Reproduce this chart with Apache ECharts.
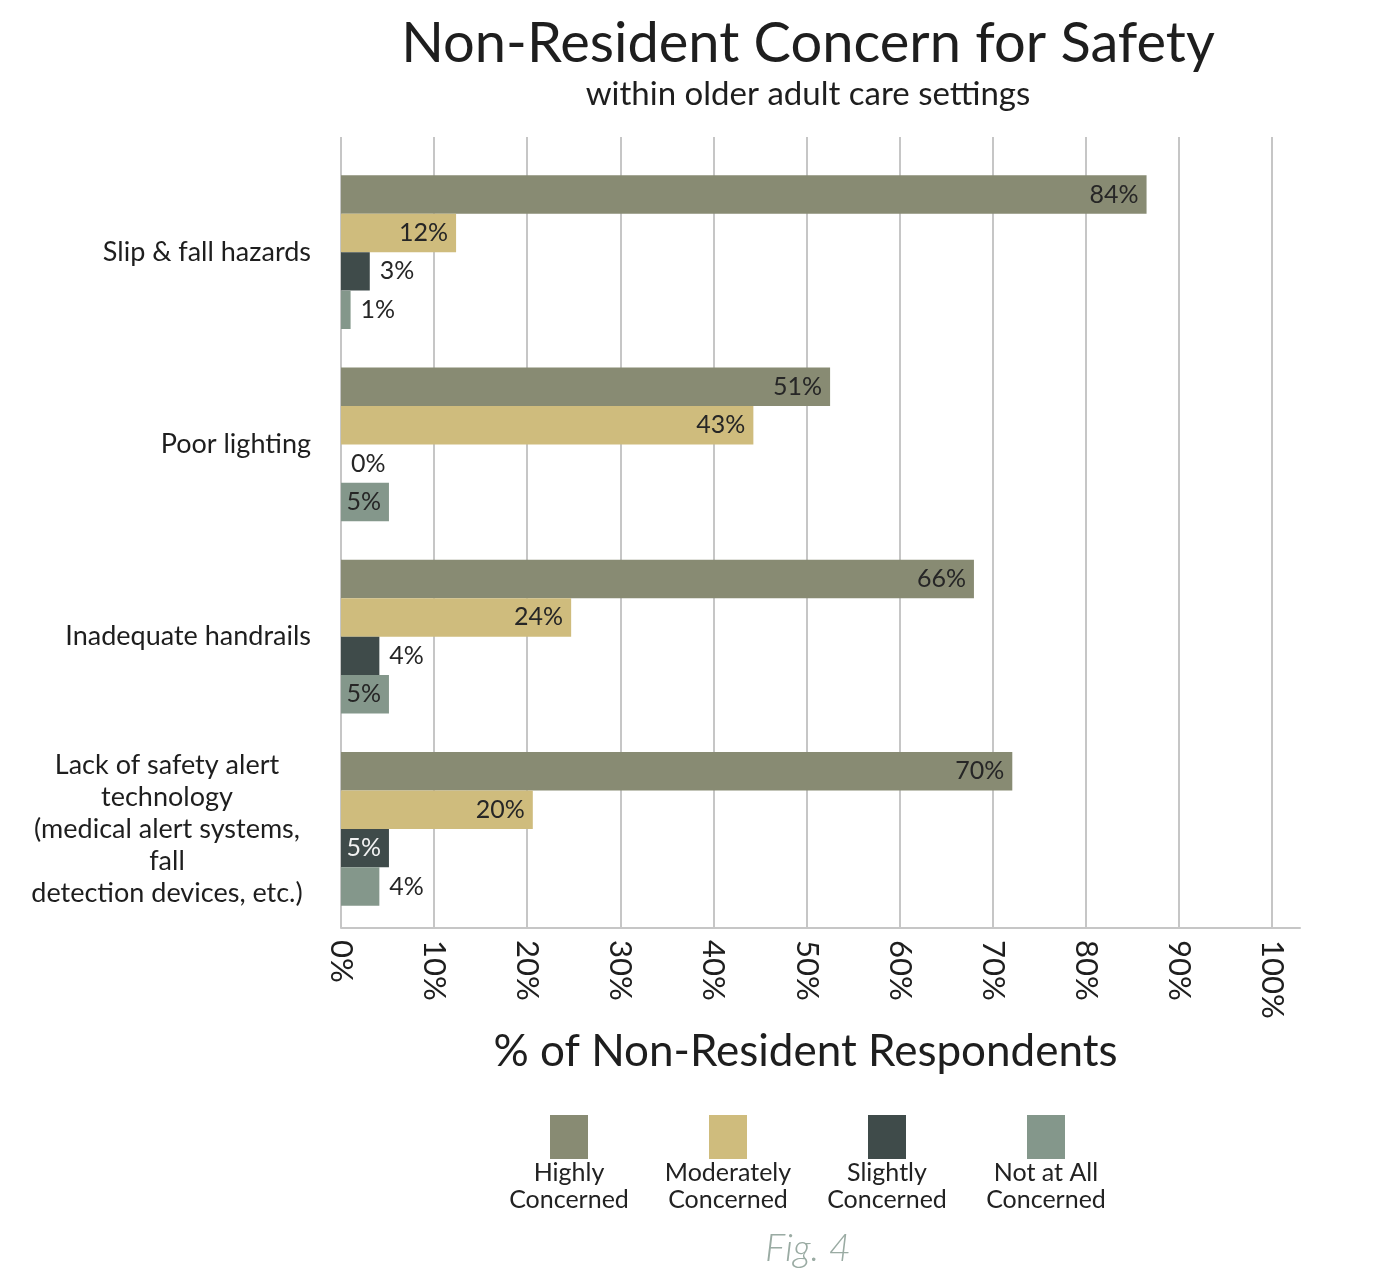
<!DOCTYPE html>
<html>
<head>
<meta charset="utf-8">
<script src="https://cdn.jsdelivr.net/npm/echarts@6/dist/echarts.min.js"></script>
<style>html,body{margin:0;padding:0;background:#fff}#c{width:1383px;height:1276px}</style>
</head>
<body>
<div id="c"></div>
<script>
// ---- data ----
const categories = [
  'Slip & fall hazards',
  'Poor lighting',
  'Inadequate handrails',
  'Lack of safety alert\ntechnology\n(medical alert systems,\nfall\ndetection devices, etc.)'
];
const seriesNames = ['Highly Concerned', 'Moderately Concerned', 'Slightly Concerned', 'Not at All Concerned'];
const highly = [84, 51, 66, 70];
const moderately = [12, 43, 24, 20];
const slightly = [3, 0, 4, 5];
const notAtAll = [1, 5, 5, 4];
const tickValues = [0, 10, 20, 30, 40, 50, 60, 70, 80, 90, 100];

// ---- style ----
const colors = ['#888b73', '#cfbc7d', '#3f4b4a', '#84978b'];
const insideLabelColors = ['#262626', '#262626', '#f2f2f2', '#262626'];
const FONT = 'Lato, "Noto Sans", sans-serif';
const gridColor = '#c6c6c6';

const allValues = [highly, moderately, slightly, notAtAll];

const chart = echarts.init(document.getElementById('c'), null, {renderer: 'canvas'});

const series = allValues.map((vals, si) => ({
  name: seriesNames[si],
  type: 'bar',
  xAxisIndex: 0,
  yAxisIndex: 0,
  barGap: '0%',
  barCategoryGap: '20%',
  itemStyle: {color: colors[si]},
  data: vals.map(v => ({
    value: v,
    label: {
      position: v >= 5 ? 'insideRight' : 'right',
      distance: v >= 5 ? 8 : 10,
      color: v >= 5 ? insideLabelColors[si] : '#262626'
    }
  })),
  label: {
    show: true,
    formatter: '{c}%',
    fontFamily: FONT,
    fontSize: 25
  }
}));

const legendRich = {
  sp: {width: 56, height: 44},
  t: {width: 150, align: 'center', fontSize: 25, lineHeight: 27, color: '#222', fontFamily: FONT}
};
colors.forEach((c, i) => { legendRich['sq' + i] = {width: 38, height: 44, backgroundColor: c}; });

const option = {
  backgroundColor: '#fff',
  animation: false,
  title: [
    {
      text: 'Non-Resident Concern for Safety',
      subtext: 'within older adult care settings',
      left: 808,
      textAlign: 'center',
      top: 16,
      padding: 0,
      itemGap: 6,
      textStyle: {fontFamily: FONT, fontSize: 56, fontWeight: 'normal', color: '#1e1e1e'},
      subtextStyle: {fontFamily: FONT, fontSize: 33, color: '#1e1e1e'}
    },
    {
      text: 'Fig. 4',
      left: 808,
      textAlign: 'center',
      top: 1230,
      padding: 0,
      textStyle: {fontFamily: FONT, fontSize: 38, fontStyle: 'italic', fontWeight: 300, color: '#9aaba3'}
    }
  ],
  legend: {
    data: seriesNames,
    left: 489,
    top: 1115,
    padding: 0,
    itemWidth: 0,
    itemHeight: 0,
    itemGap: 4,
    icon: 'rect',
    selectedMode: true,
    formatter: name => {
      const i = seriesNames.indexOf(name);
      const k = name.lastIndexOf(' ');
      return '{sp|}{sq' + i + '|}\n{t|' + name.slice(0, k) + '}\n{t|' + name.slice(k + 1) + '}';
    },
    textStyle: {rich: legendRich}
  },
  grid: [
    {left: 341, right: 83, top: 156, bottom: 351, containLabel: false},
    {left: 341, right: 83, top: 137, bottom: 348, containLabel: false}
  ],
  xAxis: [
    {type: 'value', gridIndex: 0, min: 0, max: 100, show: false},
    {
      type: 'value', gridIndex: 1, min: 0, max: 103, interval: 10,
      axisLine: {show: true, lineStyle: {color: gridColor, width: 2}},
      axisTick: {show: false},
      splitLine: {show: true, showMaxLine: false, lineStyle: {color: gridColor, width: 2}},
      axisLabel: {
        rotate: -90, margin: 12, fontFamily: FONT, fontSize: 31, color: '#1e1e1e',
        formatter: v => (tickValues.indexOf(v) >= 0 ? v + '%' : '')
      },
      name: '% of Non-Resident Respondents',
      nameLocation: 'middle',
      nameGap: 102,
      nameTextStyle: {fontFamily: FONT, fontSize: 44, color: '#1e1e1e', padding: [0, 30, 0, 0]}
    }
  ],
  yAxis: [
    {
      type: 'category', gridIndex: 0, inverse: true, data: categories,
      axisLine: {show: false}, axisTick: {show: false}, splitLine: {show: false},
      axisLabel: {
        margin: 30, fontFamily: FONT, fontSize: 27, color: '#1e1e1e', lineHeight: 32,
        formatter: v => {
          const lines = v.split('\n');
          if (lines.length === 1) return '{r|' + v + '}';
          return lines.map(l => '{c|' + l + '}').join('\n');
        },
        rich: {
          r: {fontFamily: FONT, fontSize: 27, color: '#1e1e1e'},
          c: {fontFamily: FONT, fontSize: 27, color: '#1e1e1e', width: 288, align: 'center', lineHeight: 32}
        }
      }
    },
    {type: 'value', gridIndex: 1, show: false, min: 0, max: 1}
  ],
  series: series
};

chart.setOption(option);
</script>
</body>
</html>
